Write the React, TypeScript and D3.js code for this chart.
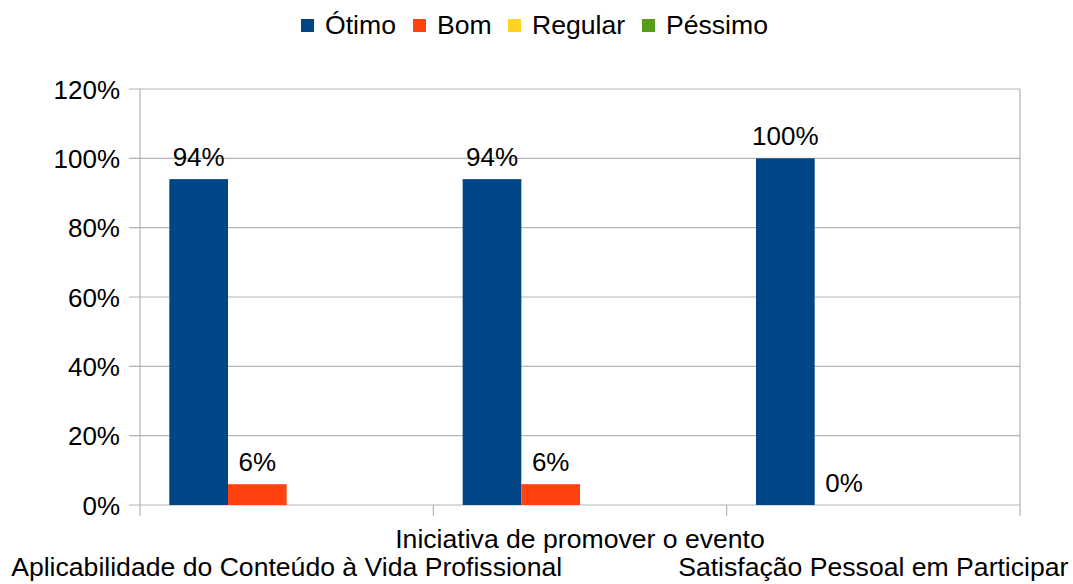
import React, { useEffect, useRef } from "react";
import * as d3 from "d3";

const categories = [
  "Aplicabilidade do Conteúdo à Vida Profissional",
  "Iniciativa de promover o evento",
  "Satisfação Pessoal em Participar",
];
const seriesNames = ["Ótimo", "Bom", "Regular", "Péssimo"];
const otimo = [94, 94, 100];
const bom = [6, 6, 0];
const regular: (number | null)[] = [null, null, null];
const pessimo: (number | null)[] = [null, null, null];
const colors = ["#004586", "#ff420e", "#ffd320", "#579d1c"];
const yTicks = [0, 20, 40, 60, 80, 100, 120];

const W = 1073;
const H = 584;
const FONT = "'Liberation Sans', Arial, sans-serif";
const FS_TICK = 26;
const FS_LABEL = 26.6;

export default function App() {
  const ref = useRef<SVGSVGElement>(null);

  useEffect(() => {
    const svg = d3.select(ref.current);
    svg.selectAll("*").remove();
    const left = 140, right = 1020, top = 89, bottom = 505;
    const x = d3.scaleBand<string>().domain(categories).range([left, right]).paddingInner(0).paddingOuter(0);
    const y = d3.scaleLinear().domain([0, 120]).range([bottom, top]);
    const grid = "#b3b3b3";

    const g = svg.append("g");
    yTicks.forEach((t) => {
      g.append("line")
        .attr("x1", left - 11).attr("x2", right)
        .attr("y1", y(t)).attr("y2", y(t))
        .attr("stroke", grid).attr("stroke-width", 1.2);
      g.append("text")
        .attr("x", left - 20).attr("y", y(t) + 9.5)
        .attr("text-anchor", "end")
        .attr("font-family", FONT).attr("font-size", FS_TICK).attr("fill", "#000")
        .text(`${t}%`);
    });
    g.append("line").attr("x1", left).attr("x2", left).attr("y1", top).attr("y2", bottom + 11).attr("stroke", grid).attr("stroke-width", 1.2);
    g.append("line").attr("x1", right).attr("x2", right).attr("y1", top).attr("y2", bottom + 11).attr("stroke", grid).attr("stroke-width", 1.2);
    categories.forEach((c, i) => {
      if (i > 0) {
        const xx = x(c)!;
        g.append("line").attr("x1", xx).attr("x2", xx).attr("y1", bottom).attr("y2", bottom + 11).attr("stroke", grid).attr("stroke-width", 1.2);
      }
    });

    const data = [otimo, bom, regular, pessimo];
    const inner = d3.scaleBand<string>().domain(seriesNames).range([0, x.bandwidth()]).paddingOuter(0.5).paddingInner(0);
    seriesNames.forEach((s, si) => {
      data[si].forEach((v, ci) => {
        if (v === null) return;
        const bx = x(categories[ci])! + inner(s)!;
        const bw = inner.bandwidth();
        g.append("rect")
          .attr("x", bx).attr("y", y(v)).attr("width", bw).attr("height", y(0) - y(v))
          .attr("fill", colors[si]);
        g.append("text")
          .attr("x", bx + bw / 2).attr("y", y(v) - 13)
          .attr("text-anchor", "middle")
          .attr("font-family", FONT).attr("font-size", FS_TICK).attr("fill", "#000")
          .text(`${v}%`);
      });
    });

    const labelY = [576, 547.5, 576];
    categories.forEach((c, i) => {
      const cx = x(c)! + x.bandwidth() / 2;
      g.append("text")
        .attr("x", cx)
        .attr("y", labelY[i])
        .attr("text-anchor", "middle")
        .attr("font-family", FONT).attr("font-size", FS_LABEL).attr("fill", "#000")
        .text(c);
    });

    const legX = [301, 413, 508, 642];
    seriesNames.forEach((s, i) => {
      g.append("rect").attr("x", legX[i]).attr("y", 19).attr("width", 13).attr("height", 13).attr("fill", colors[i]);
      g.append("text").attr("x", legX[i] + 24).attr("y", 33.5)
        .attr("font-family", FONT).attr("font-size", FS_LABEL).attr("fill", "#000")
        .text(s);
    });
  }, []);

  return (
    <svg
      ref={ref}
      width={W}
      height={H}
      style={{ position: "absolute", left: 0, top: 0, background: "#fff" }}
    />
  );
}
